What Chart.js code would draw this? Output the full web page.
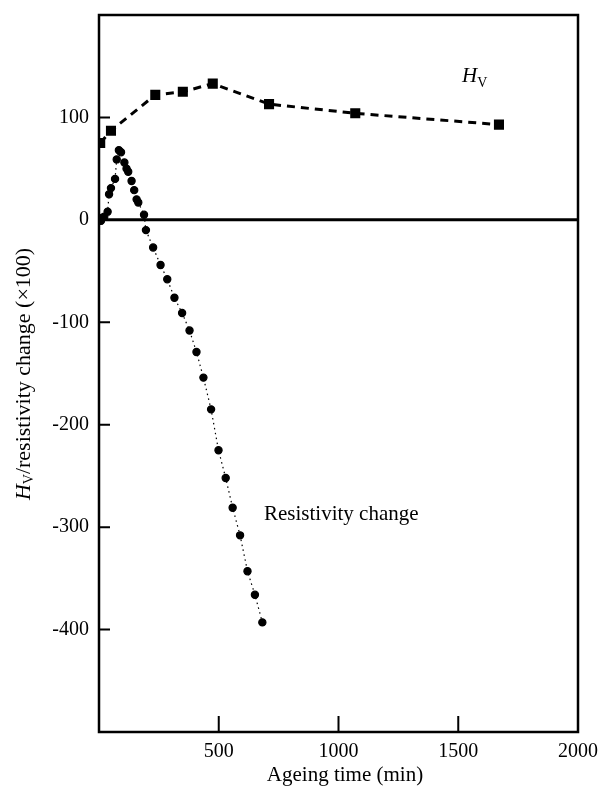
<!DOCTYPE html>
<html>
<head>
<meta charset="utf-8">
<script src="https://cdn.jsdelivr.net/npm/chart.js@4.4.1/dist/chart.umd.min.js"></script>
<style>
  body { margin: 0; background: #fff; }
</style>
</head>
<body>
<canvas id="grafico" width="600" height="786"></canvas>
<script>
// dati
const TEMPO_HV = [5, 50, 235, 350, 475, 710, 1070, 1670];
const VAL_HV = [75, 87, 122, 125, 133, 113, 104, 93];

const TEMPO_RES = [8, 14, 22, 36, 42, 50, 67, 74, 83, 92, 106, 115, 122, 136, 147, 157, 164, 188, 196,
  226, 257, 285, 315, 347, 378, 407, 436, 468, 499, 529, 558, 589, 620, 651, 682];
const VAL_RES = [-1, 2, 3, 8, 25, 31, 40, 59, 68, 66, 56, 50, 47, 38, 29, 20, 17, 5, -10,
  -27, -44, -58, -76, -91, -108, -129, -154, -185, -225, -252, -281, -308, -343, -366, -393];

const X_TICKS = [500, 1000, 1500];
const Y_TICKS = [100, -100, -200, -300, -400];

const FONT = '"Liberation Serif", "Times New Roman", serif';

function punti(xs, ys) {
  return xs.map((x, i) => ({ x: x, y: ys[i] }));
}

// niente margini extra calcolati dalle etichette
function senzaMargini(s) {
  s.paddingLeft = 0;
  s.paddingRight = 0;
  s.paddingTop = 0;
  s.paddingBottom = 0;
}

// cornice, tacche interne, linea dello zero e scritte
const decorazioni = {
  id: 'decorazioni',
  beforeDatasetsDraw(chart) {
    const ctx = chart.ctx;
    const a = chart.chartArea;
    const y0 = chart.scales.y.getPixelForValue(0);
    ctx.save();
    ctx.strokeStyle = '#000';
    ctx.lineWidth = 3;
    ctx.beginPath();
    ctx.moveTo(a.left, y0);
    ctx.lineTo(a.right, y0);
    ctx.stroke();
    ctx.restore();
  },
  afterDraw(chart) {
    const ctx = chart.ctx;
    const a = chart.chartArea;
    const sx = chart.scales.x;
    const sy = chart.scales.y;
    ctx.save();
    ctx.strokeStyle = '#000';
    ctx.lineWidth = 2.5;
    ctx.strokeRect(a.left, a.top, a.right - a.left, a.bottom - a.top);

    ctx.lineWidth = 2;
    ctx.beginPath();
    X_TICKS.forEach(v => {
      const px = sx.getPixelForValue(v);
      ctx.moveTo(px, a.bottom);
      ctx.lineTo(px, a.bottom - 16);
    });
    Y_TICKS.forEach(v => {
      const py = sy.getPixelForValue(v);
      ctx.moveTo(a.left, py);
      ctx.lineTo(a.left + 11, py);
    });
    ctx.stroke();

    ctx.fillStyle = '#000';
    ctx.textBaseline = 'alphabetic';

    // H_V
    ctx.font = 'italic 21px ' + FONT;
    ctx.fillText('H', 462, 82);
    let w = ctx.measureText('H').width;
    ctx.font = '14px ' + FONT;
    ctx.fillText('V', 462 + w, 87);

    ctx.font = '21px ' + FONT;
    ctx.fillText('Resistivity change', 264, 520);

    // titolo asse x
    ctx.textAlign = 'center';
    ctx.fillText('Ageing time (min)', 345, 781);

    // titolo asse y, ruotato
    ctx.textAlign = 'left';
    ctx.textBaseline = 'middle';
    const pezzi = [
      { t: 'H', f: 'italic 22px ' + FONT, dy: 0 },
      { t: 'V', f: '14px ' + FONT, dy: 5 },
      { t: '/resistivity change (\u00d7100)', f: '22px ' + FONT, dy: 0 }
    ];
    let tot = 0;
    pezzi.forEach(p => { ctx.font = p.f; p.w = ctx.measureText(p.t).width; tot += p.w; });
    ctx.translate(24, 374);
    ctx.rotate(-Math.PI / 2);
    let cx = -tot / 2;
    pezzi.forEach(p => {
      ctx.font = p.f;
      ctx.fillText(p.t, cx, p.dy);
      cx += p.w;
    });
    ctx.restore();
  }
};

new Chart('grafico', {
  type: 'line',
  data: {
    datasets: [
      {
        label: 'Hv',
        data: punti(TEMPO_HV, VAL_HV),
        borderColor: '#000',
        backgroundColor: '#000',
        borderWidth: 3,
        borderDash: [8, 6],
        pointStyle: 'rect',
        pointRadius: 5,
        tension: 0
      },
      {
        label: 'Resistivity change',
        data: punti(TEMPO_RES, VAL_RES),
        borderColor: '#000',
        backgroundColor: '#000',
        borderWidth: 1.2,
        borderDash: [1.5, 3.5],
        pointStyle: 'circle',
        pointRadius: 3.6,
        tension: 0
      }
    ]
  },
  options: {
    responsive: false,
    animation: false,
    layout: { padding: { top: 15, right: 22, left: 0, bottom: 0 } },
    plugins: { legend: { display: false }, tooltip: { enabled: false } },
    scales: {
      x: {
        type: 'linear',
        min: 0,
        max: 2000,
        grid: { display: false, drawTicks: false },
        border: { display: false },
        ticks: {
          stepSize: 500,
          maxRotation: 0,
          padding: 8,
          color: '#000',
          font: { family: FONT, size: 20 },
          callback: v => (v === 0 ? '' : v)
        },
        afterFit: s => { s.height = 54; senzaMargini(s); }
      },
      y: {
        min: -500,
        max: 200,
        grid: { display: false, drawTicks: false },
        border: { display: false },
        ticks: {
          stepSize: 100,
          padding: 10,
          color: '#000',
          font: { family: FONT, size: 20 },
          callback: v => (v <= 100 && v >= -400 ? v : '')
        },
        afterFit: s => { s.width = 99; senzaMargini(s); }
      }
    }
  },
  plugins: [decorazioni]
});
</script>
</body>
</html>
